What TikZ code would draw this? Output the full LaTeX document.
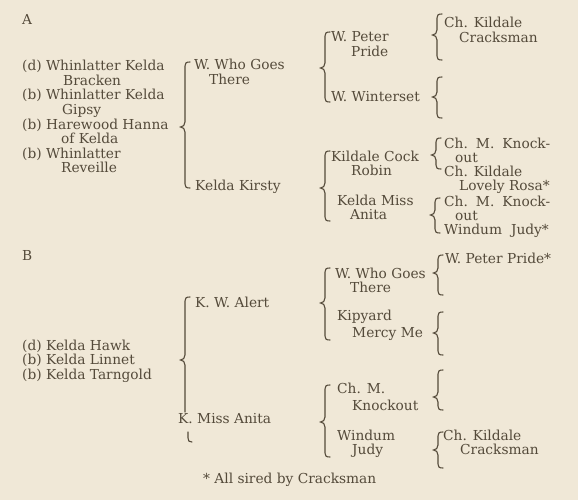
\documentclass[tikz,border=0pt]{standalone}
\usepackage{fontspec}
\setmainfont{DejaVu Serif}
\definecolor{paper}{RGB}{240,232,215}
\definecolor{ink}{RGB}{84,74,58}
\newcommand\dogfont{\fontsize{13.75}{14.5}\selectfont}
\tikzstyle{dog}=[anchor=base west, inner sep=0pt, align=left, text=ink, font=\dogfont]
\tikzstyle{brace}=[ink, line width=1.1pt, line cap=round]
% #1 = x of the stem, #2 = top, #3 = tip, #4 = bottom
\newcommand\pbrace[4]{%
  \draw[brace] (#1+5,#2) .. controls (#1+1,#2) and (#1,#2+1) .. (#1,#2+4)
    -- (#1,#3-5) .. controls (#1,#3-2) and (#1-2,#3) .. (#1-4.5,#3)
    .. controls (#1-2,#3) and (#1,#3+2) .. (#1,#3+5)
    -- (#1,#4-4) .. controls (#1,#4-1) and (#1+1,#4) .. (#1+5,#4);}

\begin{document}
\begin{tikzpicture}[x=1pt, y=-1pt]
  \fill[paper] (0,0) rectangle (578,500);

  % A  (two-line nodes sit on the baseline of their last line)
  \node[dog] (secA) at (22,25) {A};
  \node[dog] (damA1) at (22,85.5) {(d) Whinlatter Kelda\\\hspace*{41pt}Bracken};
  \node[dog] (damA2) at (22,114.5) {(b) Whinlatter Kelda\\\hspace*{40pt}Gipsy};
  \node[dog] (damA3) at (22,143.5) {(b) Harewood Hanna\\\hspace*{39pt}of Kelda};
  \node[dog] (damA4) at (22,172.5) {(b) Whinlatter\\\hspace*{39pt}Reveille};
  \node[dog] (wwgtA) at (194,84.5) {W. Who Goes\\\hspace*{15pt}There};
  \node[dog] (kkirsty) at (195,190) {Kelda Kirsty};
  \node[dog] (wpp) at (331,56.5) {W. Peter\\\hspace*{20pt}Pride};
  \node[dog] (wwinter) at (331,102) {W. Winterset};
  \node[dog] (kcr) at (331,175.5) {Kildale Cock\\\hspace*{20pt}Robin};
  \node[dog] (kmissA) at (337,219.5) {Kelda Miss\\\hspace*{13pt}Anita};
  \node[dog] (ckcA) at (444,42.5) {Ch. Kildale\\\hspace*{15pt}Cracksman};
  \node[dog] (cmkA1) at (444,162.5) {Ch.\hspace{8pt}M.\hspace{8pt}Knock-\\\hspace*{11pt}out};
  \node[dog] (cklr) at (444,190.5) {Ch. Kildale\\\hspace*{15pt}Lovely Rosa*};
  \node[dog] (cmkA2) at (444,220.5) {Ch.\hspace{8pt}M.\hspace{8pt}Knock-\\\hspace*{11pt}out};
  \node[dog] (wjudyA) at (444,234) {Windum\hspace{9pt}Judy*};

  \pbrace{185}{62}{127}{188}
  \pbrace{325}{32}{68}{102}
  \pbrace{437}{14}{35}{60}
  \pbrace{437}{77}{97}{118}
  \pbrace{325}{151}{188}{221}
  \pbrace{436}{138}{155}{169}
  \pbrace{435}{198}{215}{233}

  % B
  \node[dog] (secB) at (22,260) {B};
  \node[dog] (damB1) at (22,350) {(d) Kelda Hawk};
  \node[dog] (damB2) at (22,364) {(b) Kelda Linnet};
  \node[dog] (damB3) at (22,379) {(b) Kelda Tarngold};
  \node[dog] (kwalert) at (195,307) {K. W. Alert};
  \node[dog] (kmissB) at (178,423) {K. Miss Anita};
  \node[dog] (wwgtB) at (335,292.5) {W. Who Goes\\\hspace*{15pt}There};
  \node[dog] (kmm) at (337,337.5) {Kipyard\\[2.5pt]\hspace*{15pt}Mercy Me};
  \node[dog] (cmkB) at (337,410.5) {Ch. M.\\[2.5pt]\hspace*{15pt}Knockout};
  \node[dog] (wjudyB) at (337,454.5) {Windum\\\hspace*{15pt}Judy};
  \node[dog] (wppB) at (445,263) {W. Peter Pride*};
  \node[dog] (ckcB) at (443,454.5) {Ch. Kildale\\\hspace*{17pt}Cracksman};

  \draw[brace] (190,297) .. controls (186,297) and (185,298) .. (185,301)
    -- (185,355) .. controls (185,358) and (183,360) .. (180.5,360)
    .. controls (183,360) and (185,362) .. (185,365) -- (185,412);
  \draw[brace] (188,432) -- (188,438) .. controls (188,441) and (189,442) .. (192,442);
  \pbrace{325}{268}{303}{340}
  \pbrace{438}{255}{273}{295}
  \pbrace{438}{312}{333}{355}
  \pbrace{325}{385}{422}{457}
  \pbrace{438}{370}{397}{410}
  \pbrace{438}{432}{450}{468}

  \node[dog] (note) at (203,483) {* All sired by Cracksman};
\end{tikzpicture}
\end{document}
